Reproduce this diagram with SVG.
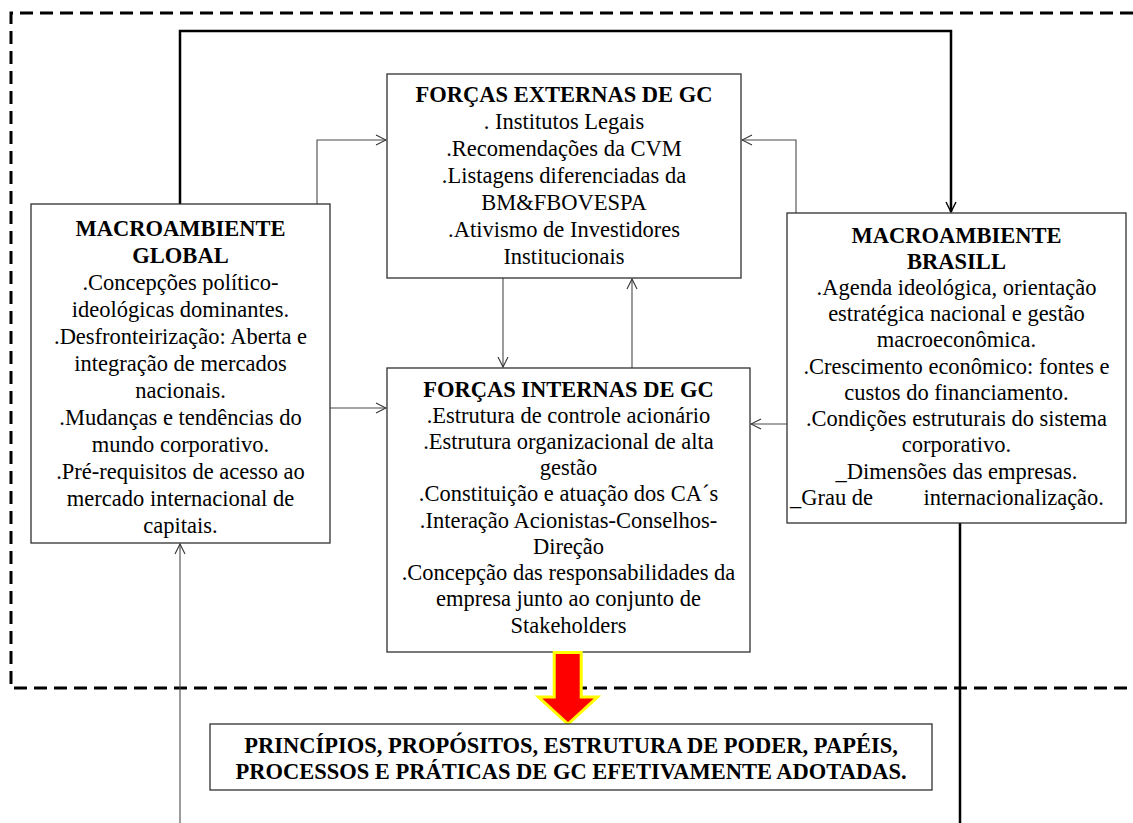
<svg xmlns="http://www.w3.org/2000/svg" width="1133" height="823" viewBox="0 0 1133 823">
  <style>
    .box { fill: #ffffff; stroke: #303030; stroke-width: 1.3; }
    .t { font-family: "Liberation Serif", "Times New Roman", serif; font-size: 22.5px; fill: #000; text-anchor: middle; }
    .b { font-weight: bold; }
    .thin { fill: none; stroke: #4a4a4a; stroke-width: 1.1; }
    .thick { fill: none; stroke: #000; stroke-width: 2.5; }
  </style>
  <defs>
    <marker id="open" viewBox="0 0 12 12" refX="11" refY="6" markerWidth="12" markerHeight="12" markerUnits="userSpaceOnUse" orient="auto">
      <path d="M1,1 L11,6 L1,11" fill="none" stroke="#333" stroke-width="1.1"/>
    </marker>
    <marker id="openBold" viewBox="0 0 12 12" refX="11" refY="6" markerWidth="12" markerHeight="12" markerUnits="userSpaceOnUse" orient="auto">
      <path d="M1,1 L11,6 L1,11" fill="none" stroke="#000" stroke-width="1.4"/>
    </marker>
  </defs>

  <rect width="1133" height="823" fill="#ffffff"/>

  <!-- dashed boundary of the corporate environment -->
  <path d="M1133,13 H11 V688 H1133" fill="none" stroke="#000" stroke-width="3" stroke-dasharray="13 7"/>

  <!-- connectors -->
  <g id="connectors">
    <path class="thick" d="M180,204 V31 H951 V212" marker-end="url(#openBold)"/>
    <path class="thin" d="M317,204 V140 H386" marker-end="url(#open)"/>
    <path class="thin" d="M796,213 V140 H742" marker-end="url(#open)"/>
    <path class="thin" d="M503,278 V367" marker-end="url(#open)"/>
    <path class="thin" d="M632,368 V279" marker-end="url(#open)"/>
    <path class="thin" d="M330,408 H386" marker-end="url(#open)"/>
    <path class="thin" d="M787,424 H751" marker-end="url(#open)"/>
    <path class="thin" d="M180,823 V544" marker-end="url(#open)"/>
    <path class="thick" d="M960,523 V823"/>
  </g>

  <!-- external forces -->
  <g id="forcas-externas">
    <rect class="box" x="387" y="74" width="354" height="204" stroke-width="1.6"/>
    <text class="t b" x="564" y="102">FORÇAS EXTERNAS DE GC</text>
    <text class="t" x="564" y="129">. Institutos Legais</text>
    <text class="t" x="564" y="156">.Recomendações da CVM</text>
    <text class="t" x="564" y="183">.Listagens diferenciadas da</text>
    <text class="t" x="564" y="210">BM&amp;FBOVESPA</text>
    <text class="t" x="564" y="237">.Ativismo de Investidores</text>
    <text class="t" x="564" y="264">Institucionais</text>
  </g>

  <!-- global macro-environment -->
  <g id="macroambiente-global">
    <rect class="box" x="31" y="204" width="299" height="339"/>
    <text class="t b" x="180.5" y="236">MACROAMBIENTE</text>
    <text class="t b" x="180.5" y="263">GLOBAL</text>
    <text class="t" x="180.5" y="290">.Concepções político-</text>
    <text class="t" x="180.5" y="317">ideológicas dominantes.</text>
    <text class="t" x="180.5" y="344">.Desfronteirização: Aberta e</text>
    <text class="t" x="180.5" y="371">integração de mercados</text>
    <text class="t" x="180.5" y="398">nacionais.</text>
    <text class="t" x="180.5" y="425">.Mudanças e tendências do</text>
    <text class="t" x="180.5" y="452">mundo corporativo.</text>
    <text class="t" x="180.5" y="479">.Pré-requisitos de acesso ao</text>
    <text class="t" x="180.5" y="506">mercado internacional de</text>
    <text class="t" x="180.5" y="533">capitais.</text>
  </g>

  <!-- Brazilian macro-environment -->
  <g id="macroambiente-brasil">
    <rect class="box" x="787" y="213" width="339" height="310"/>
    <text class="t b" x="956.5" y="243">MACROAMBIENTE</text>
    <text class="t b" x="956.5" y="269">BRASILL</text>
    <text class="t" x="956.5" y="295">.Agenda ideológica, orientação</text>
    <text class="t" x="956.5" y="321">estratégica nacional e gestão</text>
    <text class="t" x="956.5" y="347">macroeconômica.</text>
    <text class="t" x="956.5" y="374">.Crescimento econômico: fontes e</text>
    <text class="t" x="956.5" y="400">custos do financiamento.</text>
    <text class="t" x="956.5" y="426">.Condições estruturais do sistema</text>
    <text class="t" x="956.5" y="452">corporativo.</text>
    <text class="t" x="956.5" y="479">_Dimensões das empresas.</text>
    <text class="t" y="505"><tspan x="790" text-anchor="start">_Grau de</tspan><tspan x="1104" text-anchor="end">internacionalização.</tspan></text>
  </g>

  <!-- internal forces -->
  <g id="forcas-internas">
    <rect class="box" x="387" y="368" width="363" height="284"/>
    <text class="t b" x="568.5" y="397">FORÇAS INTERNAS DE GC</text>
    <text class="t" x="568.5" y="423">.Estrutura de controle acionário</text>
    <text class="t" x="568.5" y="449">.Estrutura organizacional de alta</text>
    <text class="t" x="568.5" y="475">gestão</text>
    <text class="t" x="568.5" y="501">.Constituição e atuação dos CA´s</text>
    <text class="t" x="568.5" y="528">.Interação Acionistas-Conselhos-</text>
    <text class="t" x="568.5" y="554">Direção</text>
    <text class="t" x="568.5" y="580">.Concepção das responsabilidades da</text>
    <text class="t" x="568.5" y="606">empresa junto ao conjunto de</text>
    <text class="t" x="568.5" y="633">Stakeholders</text>
  </g>

  <!-- block arrow towards the outcome -->
  <g id="seta-resultado">
    <path d="M554.2,652.5 H581.2 V697 H597.5 L568,724 L538.5,697 H554.2 Z" fill="#ff0000" stroke="#ffff00" stroke-width="3" stroke-linejoin="miter"/>
  </g>

  <!-- outcome -->
  <g id="resultado">
    <rect class="box" x="210" y="724" width="722" height="66"/>
    <text class="t b" x="571" y="753">PRINCÍPIOS, PROPÓSITOS, ESTRUTURA DE PODER, PAPÉIS,</text>
    <text class="t b" x="571" y="779">PROCESSOS E PRÁTICAS DE GC EFETIVAMENTE ADOTADAS.</text>
  </g>
</svg>
